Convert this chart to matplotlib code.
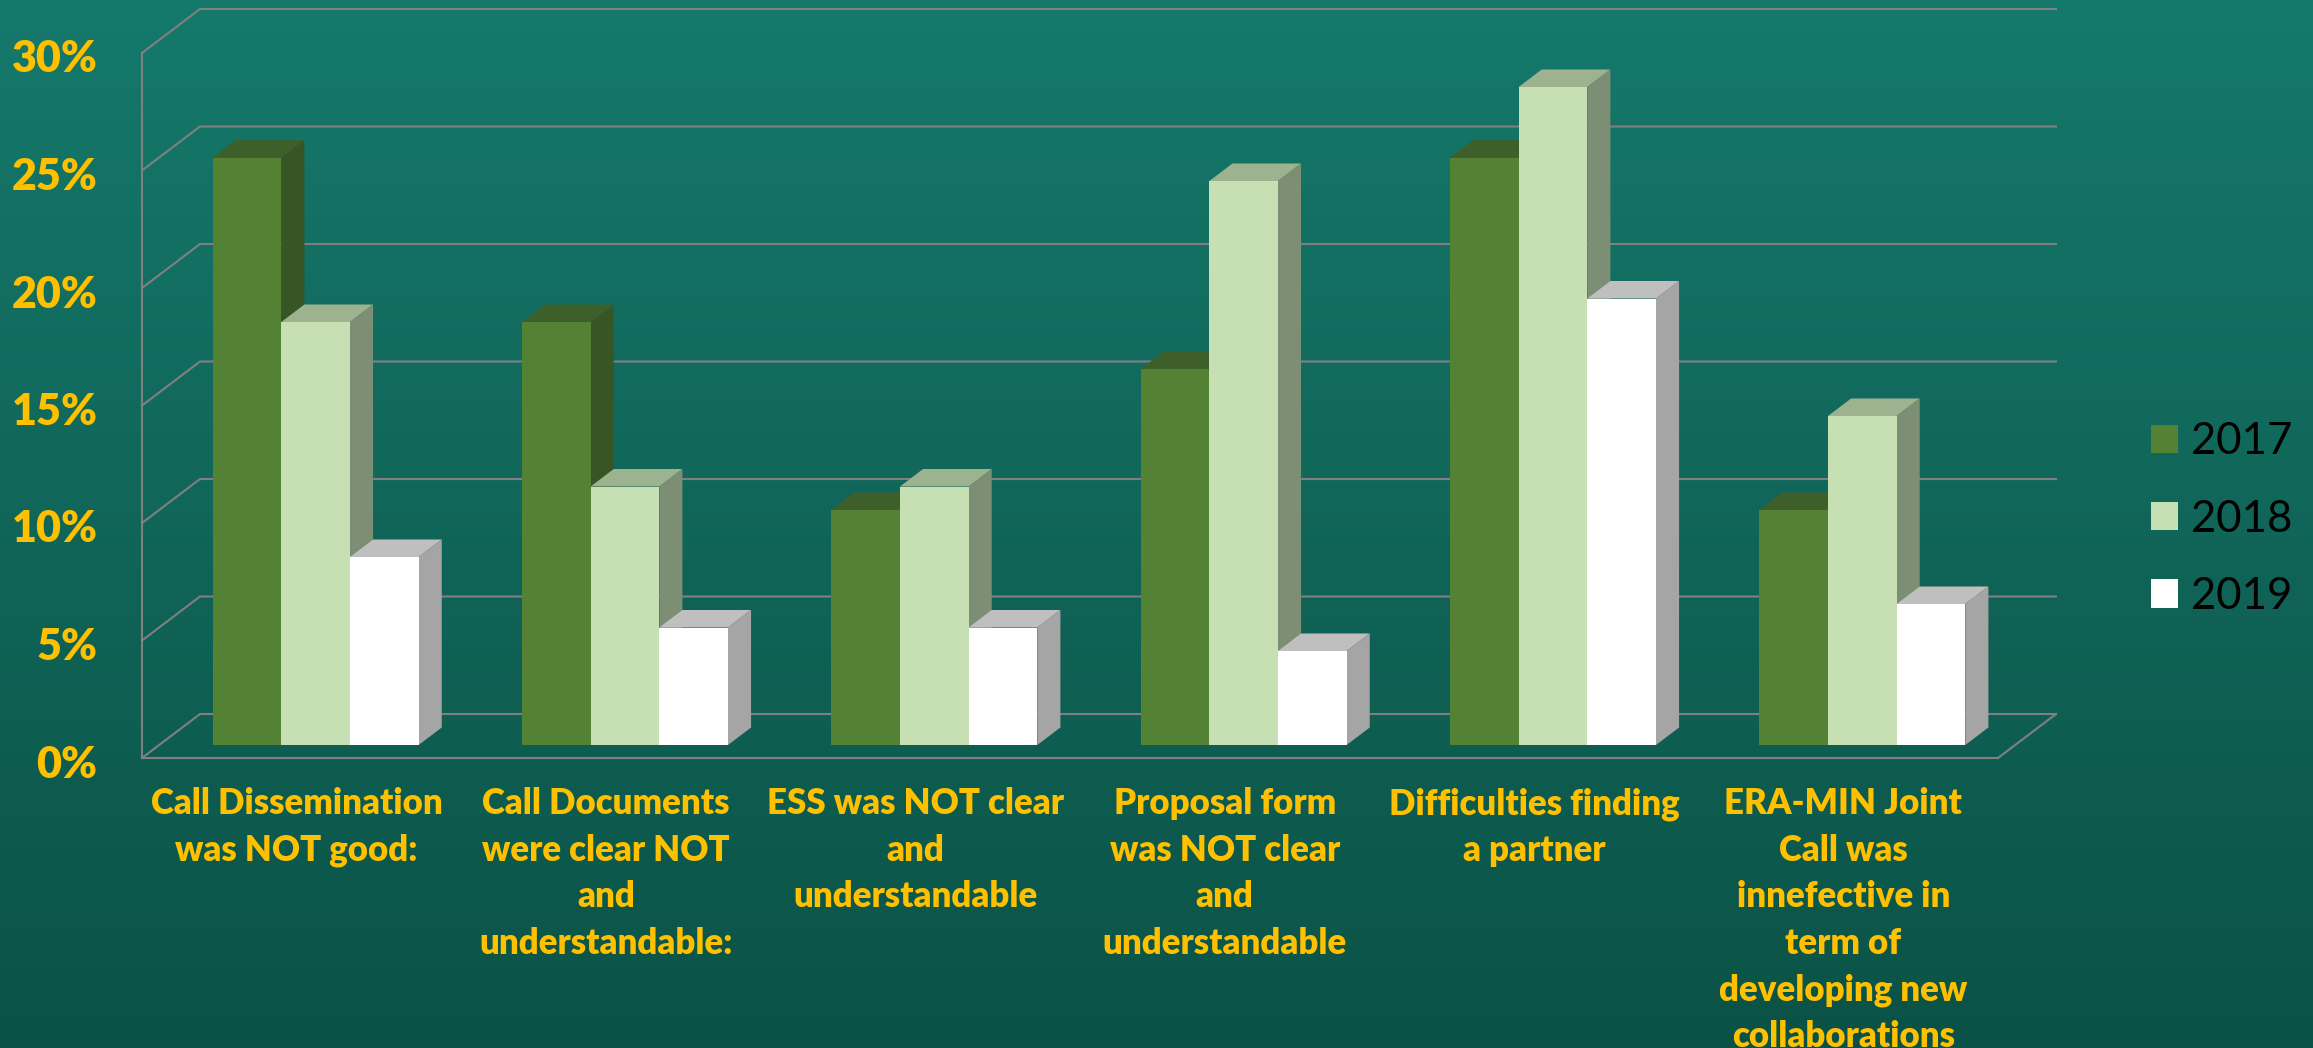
import numpy as np
import matplotlib
matplotlib.use('Agg')
import matplotlib.pyplot as plt
from matplotlib.colors import LinearSegmentedColormap
from matplotlib.patches import Patch
from matplotlib.transforms import ScaledTranslation

categories = ['Call Dissemination\nwas NOT good:',
              'Call Documents\nwere clear NOT\nand\nunderstandable:',
              'ESS was NOT clear\nand\nunderstandable',
              'Proposal form\nwas NOT clear\nand\nunderstandable',
              'Difficulties finding\na partner',
              'ERA-MIN Joint\nCall was\ninnefective in\nterm of\ndeveloping new\ncollaborations']
years = ['2017', '2018', '2019']
v2017 = [25, 18, 10, 16, 25, 10]
v2018 = [18, 11, 11, 24, 28, 14]
v2019 = [8, 5, 5, 4, 19, 6]
yticks = [0, 5, 10, 15, 20, 25, 30]
ylabels = ['0%', '5%', '10%', '15%', '20%', '25%', '30%']

W, H = 2313, 1048
GOLD = '#FFC000'
GRID = '#808080'
FRONT = ['#548235', '#C6E0B4', '#FFFFFF']
TOP = ['#3F5F2A', '#9DB28F', '#BFBFBF']
SIDE = ['#375623', '#7C8F74', '#A5A5A5']

plt.rcParams['font.family'] = ['Lato', 'DejaVu Sans']

fig = plt.figure(figsize=(W / 100, H / 100), dpi=100)

# background gradient
bg = fig.add_axes([0, 0, 1, 1], zorder=0)
cmap = LinearSegmentedColormap.from_list('bg', ['#15796B', '#0B5246'])
bg.imshow(np.linspace(0, 1, 256).reshape(-1, 1), cmap=cmap, aspect='auto')
bg.axis('off')

# the axes box is the front plane of the 3D chart
left, right, bottom, top = 142, 1998, 758, 53
ax = fig.add_axes([left / W, 1 - bottom / H, (right - left) / W, (bottom - top) / H], zorder=1)
ax.patch.set_alpha(0)
ax.set_xlim(0, 6)
ax.set_ylim(0, 30)

# size of one unit of depth, in data units
dx = 58 / ((right - left) / 6)
dy = 44 / ((bottom - top) / 30)
bar_w = 0.222
bar_depth = [13 / 44, 30.5 / 44]


def proj(x, y, d):
    return x + d * dx, y + d * dy


# walls
for t in yticks:
    x1, y1 = proj(0, t, 1)
    x2, y2 = proj(6, t, 1)
    ax.plot([0, x1, x2], [t, y1, y2], color=GRID, lw=1.5, clip_on=False, zorder=1)
x1, y1 = proj(6, 0, 1)
ax.plot([6, x1], [0, y1], color=GRID, lw=1.5, clip_on=False, zorder=1)

# bars, left to right so nearer faces cover the sides
z = 2
for i, vals in enumerate(zip(v2017, v2018, v2019)):
    for j, v in enumerate(vals):
        xl = i + 0.506 + (j - 1.5) * bar_w
        xr = xl + bar_w
        d0, d1 = bar_depth
        top_face = [proj(xl, v, d0), proj(xr, v, d0), proj(xr, v, d1), proj(xl, v, d1)]
        side_face = [proj(xr, 0, d0), proj(xr, v, d0), proj(xr, v, d1), proj(xr, 0, d1)]
        ax.fill(*zip(*top_face), color=TOP[j], lw=0, clip_on=False, zorder=z)
        ax.fill(*zip(*side_face), color=SIDE[j], lw=0, clip_on=False, zorder=z)
        fx, fy = proj(xl, 0, d0)
        ax.bar(fx, v, bar_w, bottom=fy, align='edge', color=FRONT[j], lw=0, clip_on=False, zorder=z + 1)
        z += 2

ax.set_xticks(np.arange(6) + 0.5)
ax.set_xticklabels(categories, color=GOLD, fontsize=25, fontweight='heavy', linespacing=1.5)
ax.set_yticks(yticks)
ax.set_yticklabels(ylabels, color=GOLD, fontsize=31, fontweight='heavy')
ax.tick_params(axis='x', length=0, pad=21)
ax.tick_params(axis='y', length=0, pad=32)
# y labels sit a little under their gridline
down = ScaledTranslation(0, -3 / 100, fig.dpi_scale_trans)
for lab in ax.get_yticklabels():
    lab.set_transform(lab.get_transform() + down)
for name in ['top', 'right']:
    ax.spines[name].set_visible(False)
for name in ['left', 'bottom']:
    ax.spines[name].set_color(GRID)
    ax.spines[name].set_linewidth(1.5)

handles = [Patch(facecolor=c, label=y) for c, y in zip(FRONT, years)]
ax.legend(handles=handles, loc='center left', bbox_to_anchor=(2151 / W, 1 - 519 / H),
          bbox_transform=fig.transFigure, frameon=False, fontsize=31.5, labelcolor='black',
          handlelength=0.62, handleheight=0.62, handletextpad=0.3, labelspacing=0.83,
          borderpad=0, borderaxespad=0)

fig.savefig('out.png', dpi=100)
